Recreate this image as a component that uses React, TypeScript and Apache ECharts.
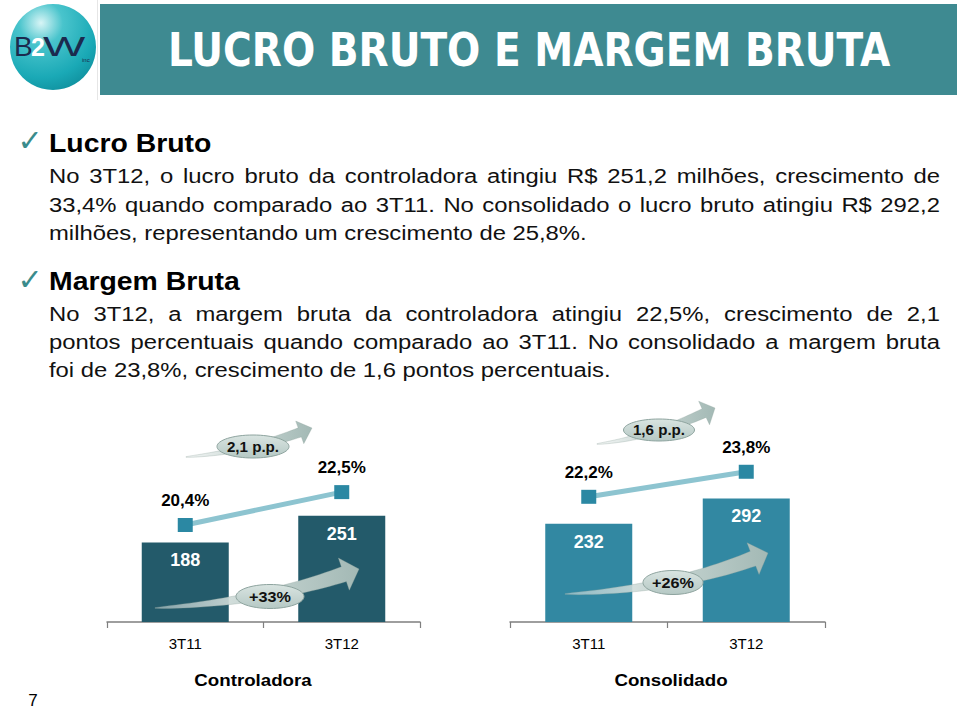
import React, { useEffect, useRef } from "react";
import * as echarts from "echarts";

// ---------- data ----------
const categories = ["3T11", "3T12"];
const controladoraLucro = [188, 251];
const consolidadoLucro = [232, 292];
const controladoraMargem = [20.4, 22.5];
const consolidadoMargem = [22.2, 23.8];
const growthLabels = ["+33%", "+26%"];
const marginDeltaLabels = ["2,1 p.p.", "1,6 p.p."];
const groupNames = ["Controladora", "Consolidado"];
const titleText = "LUCRO BRUTO E MARGEM BRUTA";
const heading1 = "Lucro Bruto";
const para1 = [
  "No 3T12, o lucro bruto da controladora atingiu R$ 251,2 milhões, crescimento de",
  "33,4% quando comparado ao 3T11. No consolidado o lucro bruto atingiu R$ 292,2",
  "milhões, representando um crescimento de 25,8%.",
];
const heading2 = "Margem Bruta";
const para2 = [
  "No 3T12, a margem bruta da controladora atingiu 22,5%, crescimento de 2,1",
  "pontos percentuais quando comparado ao 3T11. No consolidado a margem bruta",
  "foi de 23,8%, crescimento de 1,6 pontos percentuais.",
];
const pageNumber = "7";

// ---------- helpers ----------
const FAM = "'Liberation Sans', Arial, Helvetica, sans-serif";
const TITLE_FAM = "'DejaVu Sans Condensed', 'DejaVu Sans', Verdana, sans-serif";
const S = 1.135; // horizontal stretch of the slide text

let ctx: CanvasRenderingContext2D | null = null;
function measure(text: string, size: number, weight: string, family: string) {
  if (!ctx) ctx = document.createElement("canvas").getContext("2d");
  ctx!.font = `${weight} ${size}px ${family}`;
  return ctx!.measureText(text).width;
}

function T(text: string, x: number, y: number, o: any = {}) {
  return {
    type: "text",
    x,
    y,
    scaleX: o.sx ?? 1,
    scaleY: o.sy ?? 1,
    z: 100,
    silent: true,
    style: {
      text,
      x: 0,
      y: 0,
      fill: o.color ?? "#111",
      fontSize: o.size ?? 21,
      fontWeight: o.weight ?? "normal",
      fontFamily: o.family ?? FAM,
      textAlign: o.align ?? "left",
      textVerticalAlign: "middle",
      verticalAlign: "middle",
    },
  };
}

function justified(line: string, x0: number, x1: number, y: number, size: number) {
  const words = line.split(" ");
  const widths = words.map((w) => measure(w, size, "normal", FAM) * S);
  const total = widths.reduce((a, b) => a + b, 0);
  const gap = (x1 - x0 - total) / (words.length - 1);
  const els: any[] = [];
  let x = x0;
  words.forEach((w, i) => {
    els.push(T(w, x, y, { size, sx: S }));
    x += widths[i] + gap;
  });
  return els;
}

function arrowPoints(
  tail: number[],
  ctrl: number[],
  tip: number[],
  headLen: number,
  headHalf: number,
  shaftHalf: number
) {
  let dx = tip[0] - ctrl[0];
  let dy = tip[1] - ctrl[1];
  const L = Math.hypot(dx, dy);
  dx /= L;
  dy /= L;
  const B = [tip[0] - dx * headLen, tip[1] - dy * headLen];
  const upper: number[][] = [];
  const lower: number[][] = [];
  const N = 30;
  for (let i = 0; i <= N; i++) {
    const t = i / N;
    const a = (1 - t) * (1 - t);
    const b = 2 * (1 - t) * t;
    const c = t * t;
    const qx = a * tail[0] + b * ctrl[0] + c * B[0];
    const qy = a * tail[1] + b * ctrl[1] + c * B[1];
    let tx = 2 * (1 - t) * (ctrl[0] - tail[0]) + 2 * t * (B[0] - ctrl[0]);
    let ty = 2 * (1 - t) * (ctrl[1] - tail[1]) + 2 * t * (B[1] - ctrl[1]);
    const tl = Math.hypot(tx, ty) || 1;
    tx /= tl;
    ty /= tl;
    const nx = -ty;
    const ny = tx;
    const w = shaftHalf * Math.pow(t, 0.75) + 0.3;
    upper.push([qx - nx * w, qy - ny * w]);
    lower.push([qx + nx * w, qy + ny * w]);
  }
  const nx = -dy;
  const ny = dx;
  return [
    ...upper,
    [B[0] - nx * headHalf, B[1] - ny * headHalf],
    [tip[0], tip[1]],
    [B[0] + nx * headHalf, B[1] + ny * headHalf],
    ...lower.reverse(),
  ];
}

function arrowWithBadge(
  tail: number[],
  ctrl: number[],
  tip: number[],
  headLen: number,
  headHalf: number,
  shaftHalf: number,
  ell: number[],
  label: string,
  fontSize: number
) {
  return [
    {
      type: "polygon",
      z: 100,
      silent: true,
      shape: { points: arrowPoints(tail, ctrl, tip, headLen, headHalf, shaftHalf) },
      style: {
        fill: new echarts.graphic.LinearGradient(0, 0, 1, 0, [
          { offset: 0, color: "rgba(225,232,230,0.5)" },
          { offset: 0.45, color: "#c9d7d4" },
          { offset: 1, color: "#a3b9b5" },
        ]),
        stroke: "rgba(140,160,156,0.5)",
        lineWidth: 0.6,
      },
    },
    {
      type: "ellipse",
      z: 101,
      silent: true,
      shape: { cx: ell[0], cy: ell[1], rx: ell[2], ry: ell[3] },
      style: {
        fill: new echarts.graphic.LinearGradient(0, 0, 0, 1, [
          { offset: 0, color: "#d9e4e1" },
          { offset: 1, color: "#b5c8c4" },
        ]),
        stroke: "#8ea49f",
        lineWidth: 1,
      },
    },
    { ...T(label, ell[0], ell[1] + 0.5, { size: fontSize, weight: "bold", align: "center", color: "#111", sx: 1.08 }), z: 102 },
  ];
}

const pct = (p: any) => (p.value as number).toFixed(1).replace(".", ",") + "%";

export default function App() {
  const ref = useRef<HTMLDivElement>(null);

  useEffect(() => {
    if (!ref.current) return;
    const chart = echarts.init(ref.current, null, { renderer: "svg" });

    const titleW = measure(titleText, 46, "bold", TITLE_FAM);
    const graphics: any[] = [];

    // logo
    graphics.push({
      type: "line",
      z: 100,
      silent: true,
      shape: { x1: 97.5, y1: 0, x2: 97.5, y2: 100 },
      style: { stroke: "#e6e6e6", lineWidth: 1 },
    });
    graphics.push({
      type: "circle",
      z: 100,
      silent: true,
      shape: { cx: 53, cy: 47, r: 43 },
      style: {
        fill: new echarts.graphic.RadialGradient(0.36, 0.22, 0.85, [
          { offset: 0, color: "#d8f5f6" },
          { offset: 0.3, color: "#49c4cc" },
          { offset: 0.75, color: "#1aa9b6" },
          { offset: 1, color: "#0f8f9d" },
        ]),
      },
    });
    graphics.push(T("B", 14, 46, { size: 28, color: "#1b2a4e" }));
    graphics.push(T("2", 31, 47, { size: 25, weight: "bold", color: "#ffffff" }));
    graphics.push(T("W", 43, 46, { size: 28, color: "#1b2a4e", sx: 1.6 }));
    graphics.push(T("inc", 82, 60, { size: 6, color: "#1b2a4e" }));

    // title banner
    graphics.push({
      type: "rect",
      z: 99,
      silent: true,
      shape: { x: 100, y: 4, width: 857, height: 91 },
      style: { fill: "#3e8a91" },
    });
    graphics.push(
      T(titleText, 168, 50, { size: 46, weight: "bold", family: TITLE_FAM, color: "#ffffff", sx: 722 / titleW })
    );

    // bullets
    const CHECK_FAM = "'DejaVu Sans', sans-serif";
    graphics.push(T("✓", 30, 140, { size: 30, color: "#3a8c8c", align: "center", family: CHECK_FAM }));
    graphics.push(T(heading1, 49, 144, { size: 25, weight: "bold", color: "#000", sx: S }));
    const p1y = [175.7, 204.5, 232.7];
    graphics.push(...justified(para1[0], 49, 940, p1y[0], 21));
    graphics.push(...justified(para1[1], 49, 940, p1y[1], 21));
    graphics.push(T(para1[2], 49, p1y[2], { size: 21, sx: S }));

    graphics.push(T("✓", 30, 279, { size: 30, color: "#3a8c8c", align: "center", family: CHECK_FAM }));
    graphics.push(T(heading2, 49, 282, { size: 25, weight: "bold", color: "#000", sx: S }));
    const p2y = [313.7, 342, 369.5];
    graphics.push(...justified(para2[0], 49, 940, p2y[0], 21));
    graphics.push(...justified(para2[1], 49, 940, p2y[1], 21));
    graphics.push(T(para2[2], 49, p2y[2], { size: 21, sx: S }));

    // arrows + badges
    graphics.push(...arrowWithBadge([186, 457], [245, 452], [312, 428], 13, 12, 4.5, [253, 446.5, 36, 11.5], marginDeltaLabels[0], 14));
    graphics.push(...arrowWithBadge([155, 608], [262, 602], [359, 569], 16, 17, 7.5, [270, 596.5, 34, 12], growthLabels[0], 15));
    graphics.push(...arrowWithBadge([597, 444], [650, 438], [715, 408], 12, 13, 4.5, [659, 430, 35.5, 11], marginDeltaLabels[1], 14));
    graphics.push(...arrowWithBadge([565, 594], [670, 590], [768, 553], 16, 17, 7.5, [673, 582.5, 30, 12], growthLabels[1], 15));

    // group names and page number
    graphics.push(T(groupNames[0], 253, 680, { size: 17, weight: "bold", align: "center", color: "#000", sx: 1.1 }));
    graphics.push(T(groupNames[1], 671, 680, { size: 17, weight: "bold", align: "center", color: "#000", sx: 1.1 }));
    graphics.push(T(pageNumber, 33, 700, { size: 17, align: "center", color: "#000" }));

    const xAxisBase = (gridIndex: number) => ({
      type: "category",
      gridIndex,
      data: categories,
      axisLine: { show: true, lineStyle: { color: "#7f7f7f", width: 1.5 } },
      axisTick: { show: true, length: 6, lineStyle: { color: "#7f7f7f", width: 1.2 } },
      axisLabel: { color: "#000", fontSize: 15, fontFamily: FAM, margin: 14 },
      splitLine: { show: false },
    });
    const barAxis = (gridIndex: number) => ({
      type: "value",
      gridIndex,
      min: 0,
      max: 430,
      show: false,
      splitLine: { show: false },
    });
    const pctAxis = (gridIndex: number) => ({
      type: "value",
      gridIndex,
      min: 14.2,
      max: 25.83,
      show: false,
      splitLine: { show: false },
    });

    const barSeries = (xi: number, yi: number, data: number[], color: string) => ({
      type: "bar",
      xAxisIndex: xi,
      yAxisIndex: yi,
      data,
      barWidth: 87,
      itemStyle: { color },
      z: 2,
      label: {
        show: true,
        position: "insideTop",
        distance: 9,
        color: "#fff",
        fontSize: 18,
        fontWeight: "bold",
        fontFamily: FAM,
      },
    });
    const lineSeries = (xi: number, yi: number, data: number[]) => ({
      type: "line",
      xAxisIndex: xi,
      yAxisIndex: yi,
      data,
      symbol: "rect",
      symbolSize: [15, 14],
      itemStyle: { color: "#2b88a3" },
      lineStyle: { color: "#8dc4d0", width: 5 },
      z: 5,
      label: {
        show: true,
        position: "top",
        distance: 9,
        color: "#000",
        fontSize: 17,
        fontWeight: "bold",
        fontFamily: FAM,
        formatter: pct,
      },
    });

    chart.setOption({
      animation: false,
      backgroundColor: "#ffffff",
      grid: [
        { left: 107, top: 440, width: 313, height: 182 },
        { left: 510, top: 440, width: 315, height: 182 },
      ],
      xAxis: [xAxisBase(0), xAxisBase(1)],
      yAxis: [barAxis(0), pctAxis(0), barAxis(1), pctAxis(1)],
      series: [
        barSeries(0, 0, controladoraLucro, "#235a6a"),
        lineSeries(0, 1, controladoraMargem),
        barSeries(1, 2, consolidadoLucro, "#3288a2"),
        lineSeries(1, 3, consolidadoMargem),
      ],
      graphic: { elements: graphics },
    });

    return () => chart.dispose();
  }, []);

  return (
    <div
      ref={ref}
      style={{ position: "absolute", left: 0, top: 0, width: 960, height: 711, background: "#fff" }}
    />
  );
}
